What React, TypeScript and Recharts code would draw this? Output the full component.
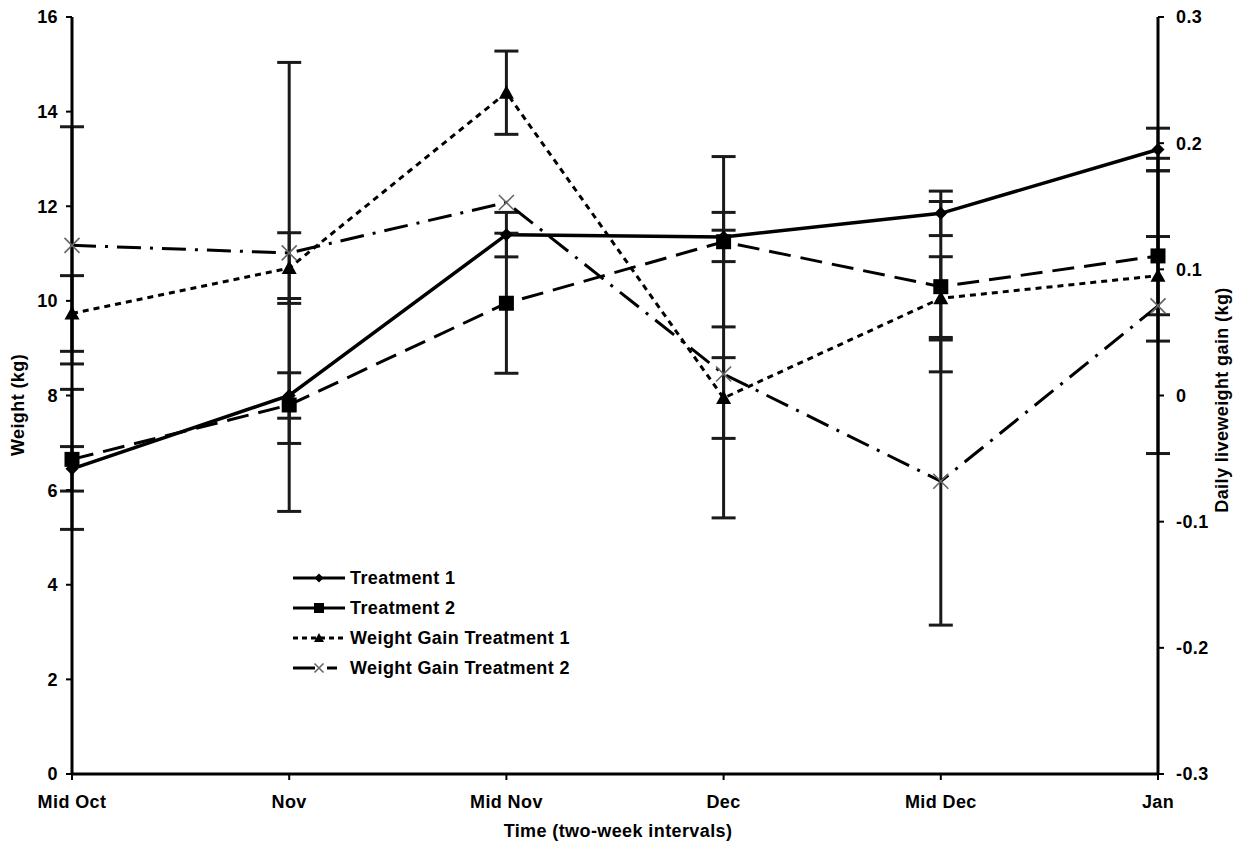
import { LineChart, Line, XAxis, YAxis, ErrorBar, Legend } from 'recharts'

const categories = ['Mid Oct', 'Nov', 'Mid Nov', 'Dec', 'Mid Dec', 'Jan']

// weight (kg), left axis
const treatment1 = [6.45, 8.0, 11.4, 11.35, 11.85, 13.2]
const treatment2 = [6.65, 7.8, 9.95, 11.25, 10.3, 10.95]
const treatment1Err = [0.47, 0.48, 0.47, 0.52, 0.47, 0.45]
const treatment2Err = [1.48, 2.25, 1.48, 1.8, 1.8, 1.8]

// daily liveweight gain (kg), right axis
const gain1 = [0.065, 0.101, 0.24, -0.002, 0.077, 0.095]
const gain2 = [0.119, 0.113, 0.153, 0.017, -0.068, 0.071]
const gain1Err = [0.03, 0.028, 0.033, 0.032, 0.033, 0.031]
const gain2Err = [0.094, 0.151, 0, 0.114, 0.114, 0.117]

const weightTicks = [0, 2, 4, 6, 8, 10, 12, 14, 16]
const gainTicks = [-0.3, -0.2, -0.1, 0, 0.1, 0.2, 0.3]

const data = categories.map((c, i) => ({
  name: c,
  t1: treatment1[i], t1Err: treatment1Err[i],
  t2: treatment2[i], t2Err: treatment2Err[i],
  g1: gain1[i], g1Err: gain1Err[i],
  g2: gain2[i], g2Err: gain2Err[i],
}))

const FONT = '"Liberation Sans", Arial, sans-serif'
const tickStyle = { fill: '#000', fontSize: 18, fontWeight: 700, fontFamily: FONT, letterSpacing: 0.4 }

type MarkerType = 'diamond' | 'square' | 'triangle' | 'cross'

function Marker({ type, x, y, s }: { type: MarkerType; x: number; y: number; s: number }) {
  const h = s / 2
  if (type === 'diamond') return <path d={`M${x},${y - h}L${x + h},${y}L${x},${y + h}L${x - h},${y}Z`} fill="#000" />
  if (type === 'square') return <rect x={x - h} y={y - h} width={s} height={s} fill="#000" />
  if (type === 'triangle') return <path d={`M${x},${y - h}L${x + h},${y + h * 0.8}L${x - h},${y + h * 0.8}Z`} fill="#000" />
  return (
    <path d={`M${x - h},${y - h}L${x + h},${y + h}M${x + h},${y - h}L${x - h},${y + h}`} stroke="#666" strokeWidth={1.6} fill="none" />
  )
}

const dotFor = (type: MarkerType, s: number) => (props: any) => {
  const { cx, cy, index } = props
  if (cx == null || cy == null) return <g key={index} />
  return <g key={index}><Marker type={type} x={cx} y={cy} s={s} /></g>
}

const legendLook: Record<string, { marker: MarkerType; dash?: string; size: number }> = {
  t1: { marker: 'diamond', size: 9, dash: undefined },
  t2: { marker: 'square', size: 10, dash: undefined },
  g1: { marker: 'triangle', size: 10, dash: '5 4' },
  g2: { marker: 'cross', size: 9, dash: '22 12 10 100' },
}

const LegendContent = ({ payload }: any) => (
  <div style={{ fontFamily: FONT, fontWeight: 700, fontSize: 18, letterSpacing: 0.4, color: '#000' }}>
    {(payload || []).map((p: any) => {
      const look = legendLook[p.dataKey]
      return (
        <div key={p.dataKey} style={{ display: 'flex', alignItems: 'center', height: 30 }}>
          <svg width={56} height={16} style={{ marginRight: 1 }}>
            <line x1={0} y1={8} x2={52} y2={8} stroke="#000" strokeWidth={3} strokeDasharray={look.dash} />
            <Marker type={look.marker} x={26} y={8} s={look.size} />
          </svg>
          <span>{p.value}</span>
        </div>
      )
    })}
  </div>
)

const titleStyle = { fontFamily: FONT, fontWeight: 700, fontSize: 18, letterSpacing: 0.4, whiteSpace: 'nowrap' as const }

export default function App() {
  return (
    <div style={{ position: 'absolute', left: 0, top: 0, width: 1239, height: 848, background: '#fff' }}>
      <LineChart width={1239} height={848} data={data} margin={{ top: 17, right: 0, bottom: 0, left: 0 }}>
        <XAxis
          dataKey="name"
          height={74}
          tick={tickStyle}
          tickSize={6}
          tickMargin={15}
          axisLine={{ stroke: '#000', strokeWidth: 3 }}
          tickLine={{ stroke: '#000', strokeWidth: 2 }}
          interval={0}
        />
        <YAxis
          yAxisId="w"
          width={72}
          domain={[0, 16]}
          ticks={weightTicks}
          tick={tickStyle}
          tickSize={6}
          tickMargin={8}
          axisLine={{ stroke: '#000', strokeWidth: 3 }}
          tickLine={{ stroke: '#000', strokeWidth: 2 }}
          allowDataOverflow
        />
        <YAxis
          yAxisId="g"
          orientation="right"
          width={81}
          domain={[-0.3, 0.3]}
          ticks={gainTicks}
          tickFormatter={(v: number) => String(Math.round(v * 10) / 10)}
          tick={{ ...tickStyle, textAnchor: 'start' }}
          tickSize={6}
          tickMargin={12}
          axisLine={{ stroke: '#000', strokeWidth: 3 }}
          tickLine={{ stroke: '#000', strokeWidth: 2 }}
          allowDataOverflow
        />
        <Legend
          layout="vertical"
          align="center"
          verticalAlign="middle"
          content={<LegendContent />}
          wrapperStyle={{ left: 293, top: 563, width: 340, height: 124 }}
        />
        <Line
          yAxisId="w" dataKey="t1" name="Treatment 1"
          stroke="#000" strokeWidth={3.5}
          dot={dotFor('diamond', 13)} activeDot={false}
          isAnimationActive={false}
        >
          <ErrorBar dataKey="t1Err" width={12} strokeWidth={3} stroke="#1a1a1a" direction="y" isAnimationActive={false} />
        </Line>
        <Line
          yAxisId="w" dataKey="t2" name="Treatment 2"
          stroke="#000" strokeWidth={3} strokeDasharray="22 10"
          dot={dotFor('square', 15)} activeDot={false}
          isAnimationActive={false}
        >
          <ErrorBar dataKey="t2Err" width={12} strokeWidth={3} stroke="#1a1a1a" direction="y" isAnimationActive={false} />
        </Line>
        <Line
          yAxisId="g" dataKey="g1" name="Weight Gain Treatment 1"
          stroke="#000" strokeWidth={3} strokeDasharray="6 5"
          dot={dotFor('triangle', 15)} activeDot={false}
          isAnimationActive={false}
        >
          <ErrorBar dataKey="g1Err" width={12} strokeWidth={3} stroke="#1a1a1a" direction="y" isAnimationActive={false} />
        </Line>
        <Line
          yAxisId="g" dataKey="g2" name="Weight Gain Treatment 2"
          stroke="#000" strokeWidth={3} strokeDasharray="24 9 3 9"
          dot={dotFor('cross', 15)} activeDot={false}
          isAnimationActive={false}
        >
          <ErrorBar dataKey="g2Err" width={12} strokeWidth={3} stroke="#1a1a1a" direction="y" isAnimationActive={false} />
        </Line>
      </LineChart>

      {/* axis titles */}
      <div style={{ ...titleStyle, position: 'absolute', left: 18, top: 405, transform: 'translate(-50%, -50%) rotate(-90deg)' }}>
        Weight (kg)
      </div>
      <div style={{ ...titleStyle, position: 'absolute', left: 1222, top: 400, transform: 'translate(-50%, -50%) rotate(-90deg)' }}>
        Daily liveweight gain (kg)
      </div>
      <div style={{ ...titleStyle, position: 'absolute', left: 618, top: 831, transform: 'translate(-50%, -50%)' }}>
        Time (two-week intervals)
      </div>
    </div>
  )
}
